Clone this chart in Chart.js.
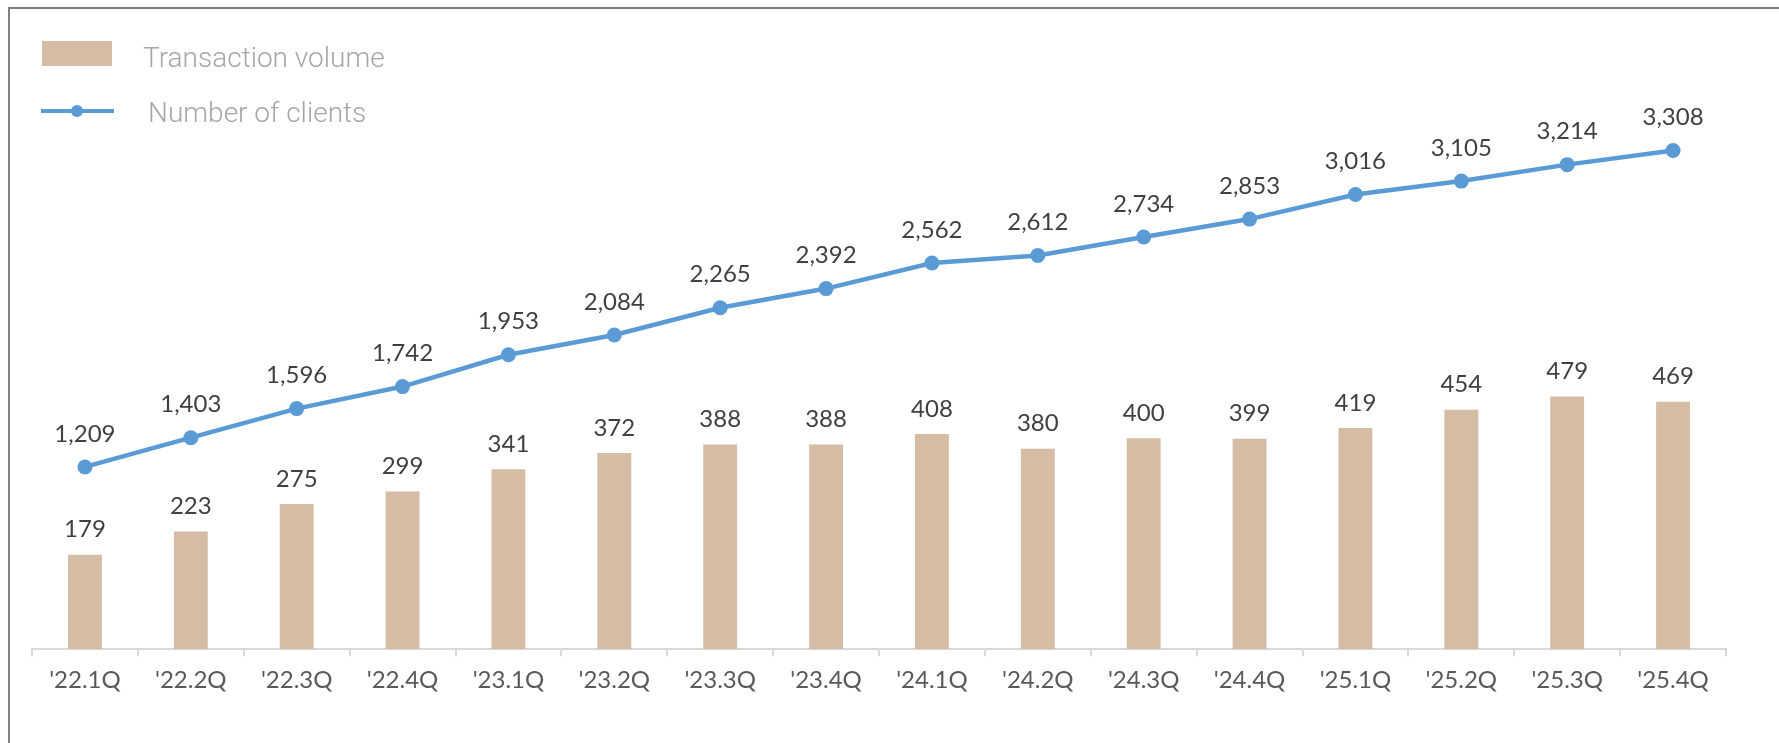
<!DOCTYPE html>
<html>
<head>
<meta charset="utf-8">
<script src="https://cdn.jsdelivr.net/npm/chart.js@4"></script>
<style>
  html, body { margin:0; padding:0; background:#fff; }
  #wrap { position:relative; width:1779px; height:743px; overflow:hidden; }
  #frame { position:absolute; left:8px; top:7px; width:1800px; height:800px;
           border-top:2px solid #808080; border-left:2px solid #808080; }
  #chart { position:absolute; left:0; top:0; }
</style>
</head>
<body>
<div id="wrap">
  <div id="frame"></div>
  <canvas id="chart" width="1779" height="743"></canvas>
</div>
<script>
const quarters = ["'22.1Q","'22.2Q","'22.3Q","'22.4Q","'23.1Q","'23.2Q","'23.3Q","'23.4Q",
                  "'24.1Q","'24.2Q","'24.3Q","'24.4Q","'25.1Q","'25.2Q","'25.3Q","'25.4Q"];
const volume  = [179, 223, 275, 299, 341, 372, 388, 388, 408, 380, 400, 399, 419, 454, 479, 469];
const clients = [1209, 1403, 1596, 1742, 1953, 2084, 2265, 2392, 2562, 2612, 2734, 2853, 3016, 3105, 3214, 3308];

const BAR = "#d4bca5";
const LINE = "#5b9bd5";
const FONT = "Lato, 'Open Sans', sans-serif";

// value labels above bars and points
const valueLabels = {
  id: "valueLabels",
  afterDatasetsDraw(chart){
    const ctx = chart.ctx;
    ctx.save();
    ctx.font = "24px " + FONT;
    ctx.fillStyle = "#404040";
    ctx.textAlign = "center";
    ctx.textBaseline = "middle";
    chart.data.datasets.forEach((ds, i) => {
      const meta = chart.getDatasetMeta(i);
      const off = ds.type === "line" ? 33 : 25;
      meta.data.forEach((p, j) => {
        ctx.fillText(ds.data[j].toLocaleString("en-US"), p.x, p.y - off);
      });
    });
    ctx.restore();
  }
};

// legend in the top-left corner, drawn inside the plot
const cornerLegend = {
  id: "cornerLegend",
  afterDraw(chart){
    const ctx = chart.ctx;
    ctx.save();
    ctx.fillStyle = BAR;
    ctx.fillRect(42, 41, 70, 25);
    ctx.strokeStyle = LINE; ctx.lineWidth = 4;
    ctx.beginPath(); ctx.moveTo(41, 111); ctx.lineTo(114, 111); ctx.stroke();
    ctx.fillStyle = LINE;
    ctx.beginPath(); ctx.arc(77, 111, 6, 0, Math.PI*2); ctx.fill();
    ctx.font = "300 28px Roboto, sans-serif";
    ctx.fillStyle = "#a6a6a6";
    ctx.textBaseline = "alphabetic";
    ctx.fillText(chart.data.datasets[0].label, 143, 67);
    ctx.fillText(chart.data.datasets[1].label, 148, 122);
    ctx.restore();
  }
};

new Chart(document.getElementById("chart"), {
  data: {
    labels: quarters,
    datasets: [
      { type:"bar", label:"Transaction volume", data:volume, yAxisID:"yBar",
        backgroundColor:BAR, barPercentage:0.64, categoryPercentage:0.5, order:2 },
      { type:"line", label:"Number of clients", data:clients, yAxisID:"yLine",
        borderColor:LINE, backgroundColor:LINE, borderWidth:4.5,
        pointRadius:7.5, pointHoverRadius:7.5, pointBackgroundColor:LINE, pointBorderWidth:0,
        tension:0, order:1 }
    ]
  },
  options: {
    responsive:false,
    animation:false,
    layout:{ padding:{ left:32, right:53, top:16, bottom:38 } },
    plugins:{ legend:{ display:false }, tooltip:{ enabled:false } },
    scales:{
      x:{
        offset:true,
        grid:{ offset:true, drawOnChartArea:false, drawTicks:true, tickLength:7, color:"#d9d9d9", lineWidth:2 },
        border:{ color:"#d9d9d9", width:2 },
        ticks:{ color:"#595959", font:{ family:FONT, size:24 }, padding:10, maxRotation:0, autoSkip:false }
      },
      yBar:{ display:false, min:0, max:1200 },
      yLine:{ display:false, min:0, max:4200 }
    }
  },
  plugins:[valueLabels, cornerLegend]
});
</script>
</body>
</html>
